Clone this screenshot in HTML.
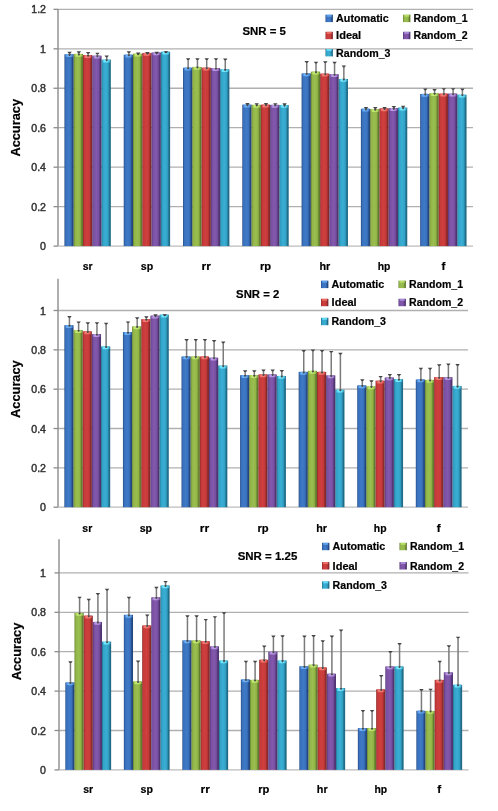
<!DOCTYPE html><html><head><meta charset="utf-8"><style>html,body{margin:0;padding:0;background:#fff;}svg{display:block;}#w{width:498px;height:811px;will-change:transform;}text{font-family:"Liberation Sans",sans-serif;}</style></head><body>
<div id="w"><svg width="498" height="811" viewBox="0 0 498 811">
<defs>
<linearGradient id="g0" x1="0" x2="1" y1="0" y2="0"><stop offset="0" stop-color="#23487f"/><stop offset="0.13" stop-color="#3870bc"/><stop offset="0.45" stop-color="#3f7ac6"/><stop offset="0.7" stop-color="#3870bc"/><stop offset="0.88" stop-color="#23487f"/><stop offset="1" stop-color="#23487f"/></linearGradient>
<linearGradient id="t0" x1="0" x2="1" y1="0" y2="0"><stop offset="0" stop-color="#3870bc"/><stop offset="0.25" stop-color="#6aaef6"/><stop offset="0.65" stop-color="#6aaef6"/><stop offset="1" stop-color="#3870bc"/></linearGradient>
<linearGradient id="g1" x1="0" x2="1" y1="0" y2="0"><stop offset="0" stop-color="#627a2c"/><stop offset="0.13" stop-color="#90b446"/><stop offset="0.45" stop-color="#9abf50"/><stop offset="0.7" stop-color="#90b446"/><stop offset="0.88" stop-color="#627a2c"/><stop offset="1" stop-color="#627a2c"/></linearGradient>
<linearGradient id="t1" x1="0" x2="1" y1="0" y2="0"><stop offset="0" stop-color="#90b446"/><stop offset="0.25" stop-color="#c0e870"/><stop offset="0.65" stop-color="#c0e870"/><stop offset="1" stop-color="#90b446"/></linearGradient>
<linearGradient id="g2" x1="0" x2="1" y1="0" y2="0"><stop offset="0" stop-color="#86292a"/><stop offset="0.13" stop-color="#c63939"/><stop offset="0.45" stop-color="#cd403e"/><stop offset="0.7" stop-color="#c63939"/><stop offset="0.88" stop-color="#86292a"/><stop offset="1" stop-color="#86292a"/></linearGradient>
<linearGradient id="t2" x1="0" x2="1" y1="0" y2="0"><stop offset="0" stop-color="#c63939"/><stop offset="0.25" stop-color="#f27a72"/><stop offset="0.65" stop-color="#f27a72"/><stop offset="1" stop-color="#c63939"/></linearGradient>
<linearGradient id="g3" x1="0" x2="1" y1="0" y2="0"><stop offset="0" stop-color="#4e3470"/><stop offset="0.13" stop-color="#794fa2"/><stop offset="0.45" stop-color="#8259ac"/><stop offset="0.7" stop-color="#794fa2"/><stop offset="0.88" stop-color="#4e3470"/><stop offset="1" stop-color="#4e3470"/></linearGradient>
<linearGradient id="t3" x1="0" x2="1" y1="0" y2="0"><stop offset="0" stop-color="#794fa2"/><stop offset="0.25" stop-color="#b898e2"/><stop offset="0.65" stop-color="#b898e2"/><stop offset="1" stop-color="#794fa2"/></linearGradient>
<linearGradient id="g4" x1="0" x2="1" y1="0" y2="0"><stop offset="0" stop-color="#206c88"/><stop offset="0.13" stop-color="#32a2c6"/><stop offset="0.45" stop-color="#3aaed4"/><stop offset="0.7" stop-color="#32a2c6"/><stop offset="0.88" stop-color="#206c88"/><stop offset="1" stop-color="#206c88"/></linearGradient>
<linearGradient id="t4" x1="0" x2="1" y1="0" y2="0"><stop offset="0" stop-color="#32a2c6"/><stop offset="0.25" stop-color="#70e6ff"/><stop offset="0.65" stop-color="#70e6ff"/><stop offset="1" stop-color="#32a2c6"/></linearGradient>
</defs>
<rect width="498" height="811" fill="#fff"/>
<line x1="53.5" y1="246.10" x2="58.0" y2="246.10" stroke="#8c8c8c" stroke-width="1.3"/>
<text x="46" y="250.10" text-anchor="end" font-size="10.6" fill="#333" stroke="#333" stroke-width="0.45">0</text>
<line x1="58.0" y1="206.64" x2="473.0" y2="206.64" stroke="#b0b0b0" stroke-width="1.3"/>
<line x1="53.5" y1="206.64" x2="58.0" y2="206.64" stroke="#8c8c8c" stroke-width="1.3"/>
<text x="46" y="210.64" text-anchor="end" font-size="10.6" fill="#333" stroke="#333" stroke-width="0.45">0.2</text>
<line x1="58.0" y1="167.18" x2="473.0" y2="167.18" stroke="#b0b0b0" stroke-width="1.3"/>
<line x1="53.5" y1="167.18" x2="58.0" y2="167.18" stroke="#8c8c8c" stroke-width="1.3"/>
<text x="46" y="171.18" text-anchor="end" font-size="10.6" fill="#333" stroke="#333" stroke-width="0.45">0.4</text>
<line x1="58.0" y1="127.72" x2="473.0" y2="127.72" stroke="#b0b0b0" stroke-width="1.3"/>
<line x1="53.5" y1="127.72" x2="58.0" y2="127.72" stroke="#8c8c8c" stroke-width="1.3"/>
<text x="46" y="131.72" text-anchor="end" font-size="10.6" fill="#333" stroke="#333" stroke-width="0.45">0.6</text>
<line x1="58.0" y1="88.26" x2="473.0" y2="88.26" stroke="#b0b0b0" stroke-width="1.3"/>
<line x1="53.5" y1="88.26" x2="58.0" y2="88.26" stroke="#8c8c8c" stroke-width="1.3"/>
<text x="46" y="92.26" text-anchor="end" font-size="10.6" fill="#333" stroke="#333" stroke-width="0.45">0.8</text>
<line x1="58.0" y1="48.80" x2="473.0" y2="48.80" stroke="#b0b0b0" stroke-width="1.3"/>
<line x1="53.5" y1="48.80" x2="58.0" y2="48.80" stroke="#8c8c8c" stroke-width="1.3"/>
<text x="46" y="52.80" text-anchor="end" font-size="10.6" fill="#333" stroke="#333" stroke-width="0.45">1</text>
<line x1="58.0" y1="9.34" x2="473.0" y2="9.34" stroke="#b0b0b0" stroke-width="1.3"/>
<line x1="53.5" y1="9.34" x2="58.0" y2="9.34" stroke="#8c8c8c" stroke-width="1.3"/>
<text x="46" y="13.34" text-anchor="end" font-size="10.6" fill="#333" stroke="#333" stroke-width="0.45">1.2</text>
<line x1="58.0" y1="9.0" x2="58.0" y2="246.10" stroke="#8c8c8c" stroke-width="1.4"/>
<line x1="58.0" y1="246.10" x2="473.0" y2="246.10" stroke="#bcbcbc" stroke-width="1.2"/>
<rect x="64.45" y="54.32" width="9.28" height="191.78" fill="url(#g0)"/>
<rect x="64.95" y="54.12" width="8.28" height="3.0" rx="1.5" fill="url(#t0)"/>
<line x1="69.59" y1="52.56" x2="69.59" y2="55.52" stroke="#7a7a7a" stroke-width="1.5"/>
<path d="M67.39,51.86H71.79L70.49,53.56H68.69Z" fill="#454545"/>
<path d="M68.29,54.12H70.89L70.09,55.92H69.09Z" fill="#3a3a3a" opacity="0.8"/>
<rect x="73.73" y="53.93" width="9.28" height="192.17" fill="url(#g1)"/>
<rect x="74.23" y="53.73" width="8.28" height="3.0" rx="1.5" fill="url(#t1)"/>
<line x1="78.86" y1="51.96" x2="78.86" y2="55.13" stroke="#7a7a7a" stroke-width="1.5"/>
<path d="M76.66,51.26H81.06L79.76,52.96H77.96Z" fill="#454545"/>
<path d="M77.56,53.73H80.16L79.36,55.53H78.36Z" fill="#3a3a3a" opacity="0.8"/>
<rect x="83.00" y="55.11" width="9.28" height="190.99" fill="url(#g2)"/>
<rect x="83.50" y="54.91" width="8.28" height="3.0" rx="1.5" fill="url(#t2)"/>
<line x1="88.14" y1="52.75" x2="88.14" y2="56.31" stroke="#7a7a7a" stroke-width="1.5"/>
<path d="M85.94,52.05H90.34L89.04,53.75H87.24Z" fill="#454545"/>
<path d="M86.84,54.91H89.44L88.64,56.71H87.64Z" fill="#3a3a3a" opacity="0.8"/>
<rect x="92.28" y="55.71" width="9.28" height="190.39" fill="url(#g3)"/>
<rect x="92.78" y="55.51" width="8.28" height="3.0" rx="1.5" fill="url(#t3)"/>
<line x1="97.42" y1="53.35" x2="97.42" y2="56.91" stroke="#7a7a7a" stroke-width="1.5"/>
<path d="M95.22,52.65H99.62L98.32,54.35H96.52Z" fill="#454545"/>
<path d="M96.12,55.51H98.72L97.92,57.31H96.92Z" fill="#3a3a3a" opacity="0.8"/>
<rect x="101.56" y="59.65" width="9.28" height="186.45" fill="url(#g4)"/>
<rect x="102.06" y="59.45" width="8.28" height="3.0" rx="1.5" fill="url(#t4)"/>
<line x1="106.70" y1="56.31" x2="106.70" y2="60.85" stroke="#7a7a7a" stroke-width="1.5"/>
<path d="M104.50,55.61H108.90L107.60,57.31H105.80Z" fill="#454545"/>
<path d="M105.40,59.45H108.00L107.20,61.25H106.20Z" fill="#3a3a3a" opacity="0.8"/>
<text x="87.64" y="270.4" text-anchor="middle" font-size="11.5" font-weight="bold" fill="#000" stroke="#000" stroke-width="0.2" textLength="9.9" lengthAdjust="spacingAndGlyphs">sr</text>
<rect x="123.73" y="54.72" width="9.28" height="191.38" fill="url(#g0)"/>
<rect x="124.23" y="54.52" width="8.28" height="3.0" rx="1.5" fill="url(#t0)"/>
<line x1="128.87" y1="51.96" x2="128.87" y2="55.92" stroke="#7a7a7a" stroke-width="1.5"/>
<path d="M126.67,51.26H131.07L129.77,52.96H127.97Z" fill="#454545"/>
<path d="M127.57,54.52H130.17L129.37,56.32H128.37Z" fill="#3a3a3a" opacity="0.8"/>
<rect x="133.01" y="53.73" width="9.28" height="192.37" fill="url(#g1)"/>
<rect x="133.51" y="53.53" width="8.28" height="3.0" rx="1.5" fill="url(#t1)"/>
<line x1="138.15" y1="53.15" x2="138.15" y2="54.93" stroke="#7a7a7a" stroke-width="1.5"/>
<path d="M135.95,52.45H140.35L139.05,54.15H137.25Z" fill="#454545"/>
<path d="M136.85,53.53H139.45L138.65,55.33H137.65Z" fill="#3a3a3a" opacity="0.8"/>
<rect x="142.29" y="52.94" width="9.28" height="193.16" fill="url(#g2)"/>
<rect x="142.79" y="52.74" width="8.28" height="3.0" rx="1.5" fill="url(#t2)"/>
<line x1="147.43" y1="52.75" x2="147.43" y2="54.14" stroke="#7a7a7a" stroke-width="1.5"/>
<path d="M145.23,52.05H149.63L148.33,53.75H146.53Z" fill="#454545"/>
<path d="M146.13,52.74H148.73L147.93,54.54H146.93Z" fill="#3a3a3a" opacity="0.8"/>
<rect x="151.57" y="52.55" width="9.28" height="193.55" fill="url(#g3)"/>
<rect x="152.07" y="52.35" width="8.28" height="3.0" rx="1.5" fill="url(#t3)"/>
<line x1="156.71" y1="52.56" x2="156.71" y2="53.75" stroke="#7a7a7a" stroke-width="1.5"/>
<path d="M154.51,51.86H158.91L157.61,53.56H155.81Z" fill="#454545"/>
<path d="M155.41,52.35H158.01L157.21,54.15H156.21Z" fill="#3a3a3a" opacity="0.8"/>
<rect x="160.85" y="51.76" width="9.28" height="194.34" fill="url(#g4)"/>
<rect x="161.35" y="51.56" width="8.28" height="3.0" rx="1.5" fill="url(#t4)"/>
<line x1="165.98" y1="51.96" x2="165.98" y2="52.96" stroke="#7a7a7a" stroke-width="1.5"/>
<path d="M163.78,51.26H168.18L166.88,52.96H165.08Z" fill="#454545"/>
<path d="M164.68,51.56H167.28L166.48,53.36H165.48Z" fill="#3a3a3a" opacity="0.8"/>
<text x="146.93" y="270.4" text-anchor="middle" font-size="11.5" font-weight="bold" fill="#000" stroke="#000" stroke-width="0.2" textLength="12.4" lengthAdjust="spacingAndGlyphs">sp</text>
<rect x="183.02" y="67.74" width="9.28" height="178.36" fill="url(#g0)"/>
<rect x="183.52" y="67.54" width="8.28" height="3.0" rx="1.5" fill="url(#t0)"/>
<line x1="188.16" y1="59.07" x2="188.16" y2="68.94" stroke="#7a7a7a" stroke-width="1.5"/>
<path d="M185.96,58.37H190.36L189.06,60.07H187.26Z" fill="#454545"/>
<path d="M186.86,67.54H189.46L188.66,69.34H187.66Z" fill="#3a3a3a" opacity="0.8"/>
<rect x="192.30" y="66.95" width="9.28" height="179.15" fill="url(#g1)"/>
<rect x="192.80" y="66.75" width="8.28" height="3.0" rx="1.5" fill="url(#t1)"/>
<line x1="197.44" y1="59.07" x2="197.44" y2="68.15" stroke="#7a7a7a" stroke-width="1.5"/>
<path d="M195.24,58.37H199.64L198.34,60.07H196.54Z" fill="#454545"/>
<path d="M196.14,66.75H198.74L197.94,68.55H196.94Z" fill="#3a3a3a" opacity="0.8"/>
<rect x="201.58" y="67.74" width="9.28" height="178.36" fill="url(#g2)"/>
<rect x="202.08" y="67.54" width="8.28" height="3.0" rx="1.5" fill="url(#t2)"/>
<line x1="206.71" y1="59.07" x2="206.71" y2="68.94" stroke="#7a7a7a" stroke-width="1.5"/>
<path d="M204.51,58.37H208.91L207.61,60.07H205.81Z" fill="#454545"/>
<path d="M205.41,67.54H208.01L207.21,69.34H206.21Z" fill="#3a3a3a" opacity="0.8"/>
<rect x="210.85" y="68.14" width="9.28" height="177.96" fill="url(#g3)"/>
<rect x="211.35" y="67.94" width="8.28" height="3.0" rx="1.5" fill="url(#t3)"/>
<line x1="215.99" y1="59.07" x2="215.99" y2="69.34" stroke="#7a7a7a" stroke-width="1.5"/>
<path d="M213.79,58.37H218.19L216.89,60.07H215.09Z" fill="#454545"/>
<path d="M214.69,67.94H217.29L216.49,69.74H215.49Z" fill="#3a3a3a" opacity="0.8"/>
<rect x="220.13" y="69.32" width="9.28" height="176.78" fill="url(#g4)"/>
<rect x="220.63" y="69.12" width="8.28" height="3.0" rx="1.5" fill="url(#t4)"/>
<line x1="225.27" y1="59.26" x2="225.27" y2="70.52" stroke="#7a7a7a" stroke-width="1.5"/>
<path d="M223.07,58.56H227.47L226.17,60.26H224.37Z" fill="#454545"/>
<path d="M223.97,69.12H226.57L225.77,70.92H224.77Z" fill="#3a3a3a" opacity="0.8"/>
<text x="206.21" y="270.4" text-anchor="middle" font-size="11.5" font-weight="bold" fill="#000" stroke="#000" stroke-width="0.2" textLength="9.4" lengthAdjust="spacingAndGlyphs">rr</text>
<rect x="242.30" y="104.64" width="9.28" height="141.46" fill="url(#g0)"/>
<rect x="242.80" y="104.44" width="8.28" height="3.0" rx="1.5" fill="url(#t0)"/>
<line x1="247.44" y1="103.66" x2="247.44" y2="105.84" stroke="#7a7a7a" stroke-width="1.5"/>
<path d="M245.24,102.96H249.64L248.34,104.66H246.54Z" fill="#454545"/>
<path d="M246.14,104.44H248.74L247.94,106.24H246.94Z" fill="#3a3a3a" opacity="0.8"/>
<rect x="251.58" y="104.83" width="9.28" height="141.27" fill="url(#g1)"/>
<rect x="252.08" y="104.63" width="8.28" height="3.0" rx="1.5" fill="url(#t1)"/>
<line x1="256.72" y1="103.85" x2="256.72" y2="106.03" stroke="#7a7a7a" stroke-width="1.5"/>
<path d="M254.52,103.15H258.92L257.62,104.85H255.82Z" fill="#454545"/>
<path d="M255.42,104.63H258.02L257.22,106.43H256.22Z" fill="#3a3a3a" opacity="0.8"/>
<rect x="260.86" y="104.64" width="9.28" height="141.46" fill="url(#g2)"/>
<rect x="261.36" y="104.44" width="8.28" height="3.0" rx="1.5" fill="url(#t2)"/>
<line x1="266.00" y1="103.66" x2="266.00" y2="105.84" stroke="#7a7a7a" stroke-width="1.5"/>
<path d="M263.80,102.96H268.20L266.90,104.66H265.10Z" fill="#454545"/>
<path d="M264.70,104.44H267.30L266.50,106.24H265.50Z" fill="#3a3a3a" opacity="0.8"/>
<rect x="270.14" y="104.83" width="9.28" height="141.27" fill="url(#g3)"/>
<rect x="270.64" y="104.63" width="8.28" height="3.0" rx="1.5" fill="url(#t3)"/>
<line x1="275.28" y1="103.85" x2="275.28" y2="106.03" stroke="#7a7a7a" stroke-width="1.5"/>
<path d="M273.08,103.15H277.48L276.18,104.85H274.38Z" fill="#454545"/>
<path d="M273.98,104.63H276.58L275.78,106.43H274.78Z" fill="#3a3a3a" opacity="0.8"/>
<rect x="279.42" y="105.03" width="9.28" height="141.07" fill="url(#g4)"/>
<rect x="279.92" y="104.83" width="8.28" height="3.0" rx="1.5" fill="url(#t4)"/>
<line x1="284.56" y1="104.05" x2="284.56" y2="106.23" stroke="#7a7a7a" stroke-width="1.5"/>
<path d="M282.36,103.35H286.76L285.46,105.05H283.66Z" fill="#454545"/>
<path d="M283.26,104.83H285.86L285.06,106.63H284.06Z" fill="#3a3a3a" opacity="0.8"/>
<text x="265.50" y="270.4" text-anchor="middle" font-size="11.5" font-weight="bold" fill="#000" stroke="#000" stroke-width="0.2" textLength="11.2" lengthAdjust="spacingAndGlyphs">rp</text>
<rect x="301.59" y="73.46" width="9.28" height="172.64" fill="url(#g0)"/>
<rect x="302.09" y="73.26" width="8.28" height="3.0" rx="1.5" fill="url(#t0)"/>
<line x1="306.73" y1="61.63" x2="306.73" y2="74.66" stroke="#7a7a7a" stroke-width="1.5"/>
<path d="M304.53,60.93H308.93L307.63,62.63H305.83Z" fill="#454545"/>
<path d="M305.43,73.26H308.03L307.23,75.06H306.23Z" fill="#3a3a3a" opacity="0.8"/>
<rect x="310.87" y="71.69" width="9.28" height="174.41" fill="url(#g1)"/>
<rect x="311.37" y="71.49" width="8.28" height="3.0" rx="1.5" fill="url(#t1)"/>
<line x1="316.01" y1="62.42" x2="316.01" y2="72.89" stroke="#7a7a7a" stroke-width="1.5"/>
<path d="M313.81,61.72H318.21L316.91,63.42H315.11Z" fill="#454545"/>
<path d="M314.71,71.49H317.31L316.51,73.29H315.51Z" fill="#3a3a3a" opacity="0.8"/>
<rect x="320.15" y="73.66" width="9.28" height="172.44" fill="url(#g2)"/>
<rect x="320.65" y="73.46" width="8.28" height="3.0" rx="1.5" fill="url(#t2)"/>
<line x1="325.29" y1="62.03" x2="325.29" y2="74.86" stroke="#7a7a7a" stroke-width="1.5"/>
<path d="M323.09,61.33H327.49L326.19,63.03H324.39Z" fill="#454545"/>
<path d="M323.99,73.46H326.59L325.79,75.26H324.79Z" fill="#3a3a3a" opacity="0.8"/>
<rect x="329.42" y="74.25" width="9.28" height="171.85" fill="url(#g3)"/>
<rect x="329.92" y="74.05" width="8.28" height="3.0" rx="1.5" fill="url(#t3)"/>
<line x1="334.56" y1="62.42" x2="334.56" y2="75.45" stroke="#7a7a7a" stroke-width="1.5"/>
<path d="M332.36,61.72H336.76L335.46,63.42H333.66Z" fill="#454545"/>
<path d="M333.26,74.05H335.86L335.06,75.85H334.06Z" fill="#3a3a3a" opacity="0.8"/>
<rect x="338.70" y="78.99" width="9.28" height="167.11" fill="url(#g4)"/>
<rect x="339.20" y="78.79" width="8.28" height="3.0" rx="1.5" fill="url(#t4)"/>
<line x1="343.84" y1="66.17" x2="343.84" y2="80.19" stroke="#7a7a7a" stroke-width="1.5"/>
<path d="M341.64,65.47H346.04L344.74,67.17H342.94Z" fill="#454545"/>
<path d="M342.54,78.79H345.14L344.34,80.59H343.34Z" fill="#3a3a3a" opacity="0.8"/>
<text x="324.79" y="270.4" text-anchor="middle" font-size="11.5" font-weight="bold" fill="#000" stroke="#000" stroke-width="0.2" textLength="10.8" lengthAdjust="spacingAndGlyphs">hr</text>
<rect x="360.88" y="108.78" width="9.28" height="137.32" fill="url(#g0)"/>
<rect x="361.38" y="108.58" width="8.28" height="3.0" rx="1.5" fill="url(#t0)"/>
<line x1="366.01" y1="107.80" x2="366.01" y2="109.98" stroke="#7a7a7a" stroke-width="1.5"/>
<path d="M363.81,107.10H368.21L366.91,108.80H365.12Z" fill="#454545"/>
<path d="M364.71,108.58H367.31L366.51,110.38H365.51Z" fill="#3a3a3a" opacity="0.8"/>
<rect x="370.15" y="109.17" width="9.28" height="136.93" fill="url(#g1)"/>
<rect x="370.65" y="108.97" width="8.28" height="3.0" rx="1.5" fill="url(#t1)"/>
<line x1="375.29" y1="107.80" x2="375.29" y2="110.37" stroke="#7a7a7a" stroke-width="1.5"/>
<path d="M373.09,107.10H377.49L376.19,108.80H374.39Z" fill="#454545"/>
<path d="M373.99,108.97H376.59L375.79,110.77H374.79Z" fill="#3a3a3a" opacity="0.8"/>
<rect x="379.43" y="108.38" width="9.28" height="137.72" fill="url(#g2)"/>
<rect x="379.93" y="108.18" width="8.28" height="3.0" rx="1.5" fill="url(#t2)"/>
<line x1="384.57" y1="107.80" x2="384.57" y2="109.58" stroke="#7a7a7a" stroke-width="1.5"/>
<path d="M382.37,107.10H386.77L385.47,108.80H383.67Z" fill="#454545"/>
<path d="M383.27,108.18H385.87L385.07,109.98H384.07Z" fill="#3a3a3a" opacity="0.8"/>
<rect x="388.71" y="108.19" width="9.28" height="137.91" fill="url(#g3)"/>
<rect x="389.21" y="107.99" width="8.28" height="3.0" rx="1.5" fill="url(#t3)"/>
<line x1="393.85" y1="106.81" x2="393.85" y2="109.39" stroke="#7a7a7a" stroke-width="1.5"/>
<path d="M391.65,106.11H396.05L394.75,107.81H392.95Z" fill="#454545"/>
<path d="M392.55,107.99H395.15L394.35,109.79H393.35Z" fill="#3a3a3a" opacity="0.8"/>
<rect x="397.99" y="107.60" width="9.28" height="138.50" fill="url(#g4)"/>
<rect x="398.49" y="107.40" width="8.28" height="3.0" rx="1.5" fill="url(#t4)"/>
<line x1="403.13" y1="106.42" x2="403.13" y2="108.80" stroke="#7a7a7a" stroke-width="1.5"/>
<path d="M400.93,105.72H405.33L404.03,107.42H402.23Z" fill="#454545"/>
<path d="M401.83,107.40H404.43L403.63,109.20H402.63Z" fill="#3a3a3a" opacity="0.8"/>
<text x="384.07" y="270.4" text-anchor="middle" font-size="11.5" font-weight="bold" fill="#000" stroke="#000" stroke-width="0.2" textLength="12.7" lengthAdjust="spacingAndGlyphs">hp</text>
<rect x="420.16" y="93.98" width="9.28" height="152.12" fill="url(#g0)"/>
<rect x="420.66" y="93.78" width="8.28" height="3.0" rx="1.5" fill="url(#t0)"/>
<line x1="425.30" y1="89.25" x2="425.30" y2="95.18" stroke="#7a7a7a" stroke-width="1.5"/>
<path d="M423.10,88.55H427.50L426.20,90.25H424.40Z" fill="#454545"/>
<path d="M424.00,93.78H426.60L425.80,95.58H424.80Z" fill="#3a3a3a" opacity="0.8"/>
<rect x="429.44" y="93.19" width="9.28" height="152.91" fill="url(#g1)"/>
<rect x="429.94" y="92.99" width="8.28" height="3.0" rx="1.5" fill="url(#t1)"/>
<line x1="434.58" y1="89.65" x2="434.58" y2="94.39" stroke="#7a7a7a" stroke-width="1.5"/>
<path d="M432.38,88.95H436.78L435.48,90.65H433.68Z" fill="#454545"/>
<path d="M433.28,92.99H435.88L435.08,94.79H434.08Z" fill="#3a3a3a" opacity="0.8"/>
<rect x="438.72" y="93.59" width="9.28" height="152.51" fill="url(#g2)"/>
<rect x="439.22" y="93.39" width="8.28" height="3.0" rx="1.5" fill="url(#t2)"/>
<line x1="443.86" y1="88.86" x2="443.86" y2="94.79" stroke="#7a7a7a" stroke-width="1.5"/>
<path d="M441.66,88.16H446.06L444.76,89.86H442.96Z" fill="#454545"/>
<path d="M442.56,93.39H445.16L444.36,95.19H443.36Z" fill="#3a3a3a" opacity="0.8"/>
<rect x="448.00" y="93.59" width="9.28" height="152.51" fill="url(#g3)"/>
<rect x="448.50" y="93.39" width="8.28" height="3.0" rx="1.5" fill="url(#t3)"/>
<line x1="453.14" y1="88.86" x2="453.14" y2="94.79" stroke="#7a7a7a" stroke-width="1.5"/>
<path d="M450.94,88.16H455.34L454.04,89.86H452.24Z" fill="#454545"/>
<path d="M451.84,93.39H454.44L453.64,95.19H452.64Z" fill="#3a3a3a" opacity="0.8"/>
<rect x="457.27" y="94.77" width="9.28" height="151.33" fill="url(#g4)"/>
<rect x="457.77" y="94.57" width="8.28" height="3.0" rx="1.5" fill="url(#t4)"/>
<line x1="462.41" y1="89.25" x2="462.41" y2="95.97" stroke="#7a7a7a" stroke-width="1.5"/>
<path d="M460.21,88.55H464.61L463.31,90.25H461.51Z" fill="#454545"/>
<path d="M461.11,94.57H463.71L462.91,96.37H461.91Z" fill="#3a3a3a" opacity="0.8"/>
<text x="443.36" y="270.4" text-anchor="middle" font-size="11.5" font-weight="bold" fill="#000" stroke="#000" stroke-width="0.2" textLength="3.9" lengthAdjust="spacingAndGlyphs">f</text>
<text x="242.5" y="34.70" font-size="11.8" font-weight="bold" fill="#000" stroke="#000" stroke-width="0.2" textLength="43.4" lengthAdjust="spacingAndGlyphs">SNR = 5</text>
<rect x="325.50" y="14.70" width="7.4" height="7.4" fill="url(#g0)"/>
<rect x="326.70" y="14.70" width="5" height="2" fill="#6aaef6" opacity="0.8"/>
<text x="336.10" y="22.20" font-size="11" font-weight="bold" fill="#000" stroke="#000" stroke-width="0.2" textLength="52.6" lengthAdjust="spacingAndGlyphs">Automatic</text>
<rect x="403.00" y="14.70" width="7.4" height="7.4" fill="url(#g1)"/>
<rect x="404.20" y="14.70" width="5" height="2" fill="#c0e870" opacity="0.8"/>
<text x="413.60" y="22.20" font-size="11" font-weight="bold" fill="#000" stroke="#000" stroke-width="0.2" textLength="54.0" lengthAdjust="spacingAndGlyphs">Random_1</text>
<rect x="325.50" y="31.80" width="7.4" height="7.4" fill="url(#g2)"/>
<rect x="326.70" y="31.80" width="5" height="2" fill="#f27a72" opacity="0.8"/>
<text x="336.10" y="39.30" font-size="11" font-weight="bold" fill="#000" stroke="#000" stroke-width="0.2" textLength="25.1" lengthAdjust="spacingAndGlyphs">Ideal</text>
<rect x="403.00" y="31.80" width="7.4" height="7.4" fill="url(#g3)"/>
<rect x="404.20" y="31.80" width="5" height="2" fill="#b898e2" opacity="0.8"/>
<text x="413.60" y="39.30" font-size="11" font-weight="bold" fill="#000" stroke="#000" stroke-width="0.2" textLength="54.0" lengthAdjust="spacingAndGlyphs">Random_2</text>
<rect x="325.50" y="49.00" width="7.4" height="7.4" fill="url(#g4)"/>
<rect x="326.70" y="49.00" width="5" height="2" fill="#70e6ff" opacity="0.8"/>
<text x="336.10" y="56.50" font-size="11" font-weight="bold" fill="#000" stroke="#000" stroke-width="0.2" textLength="54.4" lengthAdjust="spacingAndGlyphs">Random_3</text>
<text transform="translate(20.4,127.80) rotate(-90)" x="0" y="0" text-anchor="middle" font-size="12.8" font-weight="bold" fill="#000" stroke="#000" stroke-width="0.2">Accuracy</text>
<line x1="53.5" y1="507.20" x2="58.0" y2="507.20" stroke="#8c8c8c" stroke-width="1.3"/>
<text x="46" y="511.20" text-anchor="end" font-size="10.6" fill="#333" stroke="#333" stroke-width="0.45">0</text>
<line x1="58.0" y1="467.86" x2="468.0" y2="467.86" stroke="#b0b0b0" stroke-width="1.3"/>
<line x1="53.5" y1="467.86" x2="58.0" y2="467.86" stroke="#8c8c8c" stroke-width="1.3"/>
<text x="46" y="471.86" text-anchor="end" font-size="10.6" fill="#333" stroke="#333" stroke-width="0.45">0.2</text>
<line x1="58.0" y1="428.52" x2="468.0" y2="428.52" stroke="#b0b0b0" stroke-width="1.3"/>
<line x1="53.5" y1="428.52" x2="58.0" y2="428.52" stroke="#8c8c8c" stroke-width="1.3"/>
<text x="46" y="432.52" text-anchor="end" font-size="10.6" fill="#333" stroke="#333" stroke-width="0.45">0.4</text>
<line x1="58.0" y1="389.18" x2="468.0" y2="389.18" stroke="#b0b0b0" stroke-width="1.3"/>
<line x1="53.5" y1="389.18" x2="58.0" y2="389.18" stroke="#8c8c8c" stroke-width="1.3"/>
<text x="46" y="393.18" text-anchor="end" font-size="10.6" fill="#333" stroke="#333" stroke-width="0.45">0.6</text>
<line x1="58.0" y1="349.84" x2="468.0" y2="349.84" stroke="#b0b0b0" stroke-width="1.3"/>
<line x1="53.5" y1="349.84" x2="58.0" y2="349.84" stroke="#8c8c8c" stroke-width="1.3"/>
<text x="46" y="353.84" text-anchor="end" font-size="10.6" fill="#333" stroke="#333" stroke-width="0.45">0.8</text>
<line x1="58.0" y1="310.50" x2="468.0" y2="310.50" stroke="#b0b0b0" stroke-width="1.3"/>
<line x1="53.5" y1="310.50" x2="58.0" y2="310.50" stroke="#8c8c8c" stroke-width="1.3"/>
<text x="46" y="314.50" text-anchor="end" font-size="10.6" fill="#333" stroke="#333" stroke-width="0.45">1</text>
<line x1="58.0" y1="278.7" x2="58.0" y2="507.20" stroke="#8c8c8c" stroke-width="1.4"/>
<line x1="58.0" y1="507.20" x2="468.0" y2="507.20" stroke="#bcbcbc" stroke-width="1.2"/>
<rect x="64.37" y="325.25" width="9.17" height="181.95" fill="url(#g0)"/>
<rect x="64.87" y="325.05" width="8.17" height="3.0" rx="1.5" fill="url(#t0)"/>
<line x1="69.45" y1="316.80" x2="69.45" y2="326.45" stroke="#7a7a7a" stroke-width="1.5"/>
<path d="M67.25,316.10H71.65L70.35,317.80H68.55Z" fill="#454545"/>
<path d="M68.15,325.05H70.75L69.95,326.85H68.95Z" fill="#3a3a3a" opacity="0.8"/>
<rect x="73.54" y="330.17" width="9.17" height="177.03" fill="url(#g1)"/>
<rect x="74.04" y="329.97" width="8.17" height="3.0" rx="1.5" fill="url(#t1)"/>
<line x1="78.62" y1="322.12" x2="78.62" y2="331.37" stroke="#7a7a7a" stroke-width="1.5"/>
<path d="M76.42,321.42H80.82L79.52,323.12H77.72Z" fill="#454545"/>
<path d="M77.32,329.97H79.92L79.12,331.77H78.12Z" fill="#3a3a3a" opacity="0.8"/>
<rect x="82.70" y="331.35" width="9.17" height="175.85" fill="url(#g2)"/>
<rect x="83.20" y="331.15" width="8.17" height="3.0" rx="1.5" fill="url(#t2)"/>
<line x1="87.79" y1="322.90" x2="87.79" y2="332.55" stroke="#7a7a7a" stroke-width="1.5"/>
<path d="M85.59,322.20H89.99L88.69,323.90H86.89Z" fill="#454545"/>
<path d="M86.49,331.15H89.09L88.29,332.95H87.29Z" fill="#3a3a3a" opacity="0.8"/>
<rect x="91.87" y="334.10" width="9.17" height="173.10" fill="url(#g3)"/>
<rect x="92.37" y="333.90" width="8.17" height="3.0" rx="1.5" fill="url(#t3)"/>
<line x1="96.95" y1="322.90" x2="96.95" y2="335.30" stroke="#7a7a7a" stroke-width="1.5"/>
<path d="M94.75,322.20H99.15L97.85,323.90H96.05Z" fill="#454545"/>
<path d="M95.65,333.90H98.25L97.45,335.70H96.45Z" fill="#3a3a3a" opacity="0.8"/>
<rect x="101.04" y="346.50" width="9.17" height="160.70" fill="url(#g4)"/>
<rect x="101.54" y="346.30" width="8.17" height="3.0" rx="1.5" fill="url(#t4)"/>
<line x1="106.12" y1="323.49" x2="106.12" y2="347.70" stroke="#7a7a7a" stroke-width="1.5"/>
<path d="M103.92,322.79H108.32L107.02,324.49H105.22Z" fill="#454545"/>
<path d="M104.82,346.30H107.42L106.62,348.10H105.62Z" fill="#3a3a3a" opacity="0.8"/>
<text x="87.29" y="531.7" text-anchor="middle" font-size="11.5" font-weight="bold" fill="#000" stroke="#000" stroke-width="0.2" textLength="9.9" lengthAdjust="spacingAndGlyphs">sr</text>
<rect x="122.94" y="332.14" width="9.17" height="175.06" fill="url(#g0)"/>
<rect x="123.44" y="331.94" width="8.17" height="3.0" rx="1.5" fill="url(#t0)"/>
<line x1="128.02" y1="322.12" x2="128.02" y2="333.34" stroke="#7a7a7a" stroke-width="1.5"/>
<path d="M125.82,321.42H130.22L128.92,323.12H127.12Z" fill="#454545"/>
<path d="M126.72,331.94H129.32L128.52,333.74H127.52Z" fill="#3a3a3a" opacity="0.8"/>
<rect x="132.11" y="326.43" width="9.17" height="180.77" fill="url(#g1)"/>
<rect x="132.61" y="326.23" width="8.17" height="3.0" rx="1.5" fill="url(#t1)"/>
<line x1="137.19" y1="317.98" x2="137.19" y2="327.63" stroke="#7a7a7a" stroke-width="1.5"/>
<path d="M134.99,317.28H139.39L138.09,318.98H136.29Z" fill="#454545"/>
<path d="M135.89,326.23H138.49L137.69,328.03H136.69Z" fill="#3a3a3a" opacity="0.8"/>
<rect x="141.27" y="319.15" width="9.17" height="188.05" fill="url(#g2)"/>
<rect x="141.77" y="318.95" width="8.17" height="3.0" rx="1.5" fill="url(#t2)"/>
<line x1="146.36" y1="317.00" x2="146.36" y2="320.35" stroke="#7a7a7a" stroke-width="1.5"/>
<path d="M144.16,316.30H148.56L147.26,318.00H145.46Z" fill="#454545"/>
<path d="M145.06,318.95H147.66L146.86,320.75H145.86Z" fill="#3a3a3a" opacity="0.8"/>
<rect x="150.44" y="315.61" width="9.17" height="191.59" fill="url(#g3)"/>
<rect x="150.94" y="315.41" width="8.17" height="3.0" rx="1.5" fill="url(#t3)"/>
<line x1="155.52" y1="315.03" x2="155.52" y2="316.81" stroke="#7a7a7a" stroke-width="1.5"/>
<path d="M153.32,314.33H157.72L156.42,316.03H154.62Z" fill="#454545"/>
<path d="M154.22,315.41H156.82L156.02,317.21H155.02Z" fill="#3a3a3a" opacity="0.8"/>
<rect x="159.61" y="314.63" width="9.17" height="192.57" fill="url(#g4)"/>
<rect x="160.11" y="314.43" width="8.17" height="3.0" rx="1.5" fill="url(#t4)"/>
<line x1="164.69" y1="314.84" x2="164.69" y2="315.83" stroke="#7a7a7a" stroke-width="1.5"/>
<path d="M162.49,314.14H166.89L165.59,315.84H163.79Z" fill="#454545"/>
<path d="M163.39,314.43H165.99L165.19,316.23H164.19Z" fill="#3a3a3a" opacity="0.8"/>
<text x="145.86" y="531.7" text-anchor="middle" font-size="11.5" font-weight="bold" fill="#000" stroke="#000" stroke-width="0.2" textLength="12.4" lengthAdjust="spacingAndGlyphs">sp</text>
<rect x="181.51" y="356.53" width="9.17" height="150.67" fill="url(#g0)"/>
<rect x="182.01" y="356.33" width="8.17" height="3.0" rx="1.5" fill="url(#t0)"/>
<line x1="186.60" y1="339.82" x2="186.60" y2="357.73" stroke="#7a7a7a" stroke-width="1.5"/>
<path d="M184.40,339.12H188.80L187.50,340.82H185.70Z" fill="#454545"/>
<path d="M185.30,356.33H187.90L187.10,358.13H186.10Z" fill="#3a3a3a" opacity="0.8"/>
<rect x="190.68" y="356.53" width="9.17" height="150.67" fill="url(#g1)"/>
<rect x="191.18" y="356.33" width="8.17" height="3.0" rx="1.5" fill="url(#t1)"/>
<line x1="195.76" y1="339.82" x2="195.76" y2="357.73" stroke="#7a7a7a" stroke-width="1.5"/>
<path d="M193.56,339.12H197.96L196.66,340.82H194.86Z" fill="#454545"/>
<path d="M194.46,356.33H197.06L196.26,358.13H195.26Z" fill="#3a3a3a" opacity="0.8"/>
<rect x="199.85" y="356.53" width="9.17" height="150.67" fill="url(#g2)"/>
<rect x="200.35" y="356.33" width="8.17" height="3.0" rx="1.5" fill="url(#t2)"/>
<line x1="204.93" y1="339.82" x2="204.93" y2="357.73" stroke="#7a7a7a" stroke-width="1.5"/>
<path d="M202.73,339.12H207.13L205.83,340.82H204.03Z" fill="#454545"/>
<path d="M203.63,356.33H206.23L205.43,358.13H204.43Z" fill="#3a3a3a" opacity="0.8"/>
<rect x="209.01" y="357.71" width="9.17" height="149.49" fill="url(#g3)"/>
<rect x="209.51" y="357.51" width="8.17" height="3.0" rx="1.5" fill="url(#t3)"/>
<line x1="214.09" y1="340.80" x2="214.09" y2="358.91" stroke="#7a7a7a" stroke-width="1.5"/>
<path d="M211.90,340.10H216.29L215.00,341.80H213.19Z" fill="#454545"/>
<path d="M212.79,357.51H215.40L214.59,359.31H213.59Z" fill="#3a3a3a" opacity="0.8"/>
<rect x="218.18" y="365.58" width="9.17" height="141.62" fill="url(#g4)"/>
<rect x="218.68" y="365.38" width="8.17" height="3.0" rx="1.5" fill="url(#t4)"/>
<line x1="223.26" y1="342.18" x2="223.26" y2="366.78" stroke="#7a7a7a" stroke-width="1.5"/>
<path d="M221.06,341.48H225.46L224.16,343.18H222.36Z" fill="#454545"/>
<path d="M221.96,365.38H224.56L223.76,367.18H222.76Z" fill="#3a3a3a" opacity="0.8"/>
<text x="204.43" y="531.7" text-anchor="middle" font-size="11.5" font-weight="bold" fill="#000" stroke="#000" stroke-width="0.2" textLength="9.4" lengthAdjust="spacingAndGlyphs">rr</text>
<rect x="240.08" y="375.21" width="9.17" height="131.99" fill="url(#g0)"/>
<rect x="240.58" y="375.01" width="8.17" height="3.0" rx="1.5" fill="url(#t0)"/>
<line x1="245.17" y1="370.90" x2="245.17" y2="376.41" stroke="#7a7a7a" stroke-width="1.5"/>
<path d="M242.97,370.20H247.37L246.07,371.90H244.27Z" fill="#454545"/>
<path d="M243.87,375.01H246.47L245.67,376.81H244.67Z" fill="#3a3a3a" opacity="0.8"/>
<rect x="249.25" y="375.21" width="9.17" height="131.99" fill="url(#g1)"/>
<rect x="249.75" y="375.01" width="8.17" height="3.0" rx="1.5" fill="url(#t1)"/>
<line x1="254.33" y1="370.90" x2="254.33" y2="376.41" stroke="#7a7a7a" stroke-width="1.5"/>
<path d="M252.13,370.20H256.53L255.23,371.90H253.43Z" fill="#454545"/>
<path d="M253.03,375.01H255.63L254.83,376.81H253.83Z" fill="#3a3a3a" opacity="0.8"/>
<rect x="258.42" y="374.43" width="9.17" height="132.77" fill="url(#g2)"/>
<rect x="258.92" y="374.23" width="8.17" height="3.0" rx="1.5" fill="url(#t2)"/>
<line x1="263.50" y1="370.31" x2="263.50" y2="375.63" stroke="#7a7a7a" stroke-width="1.5"/>
<path d="M261.30,369.61H265.70L264.40,371.31H262.60Z" fill="#454545"/>
<path d="M262.20,374.23H264.80L264.00,376.03H263.00Z" fill="#3a3a3a" opacity="0.8"/>
<rect x="267.58" y="374.43" width="9.17" height="132.77" fill="url(#g3)"/>
<rect x="268.08" y="374.23" width="8.17" height="3.0" rx="1.5" fill="url(#t3)"/>
<line x1="272.67" y1="370.31" x2="272.67" y2="375.63" stroke="#7a7a7a" stroke-width="1.5"/>
<path d="M270.47,369.61H274.87L273.57,371.31H271.77Z" fill="#454545"/>
<path d="M271.37,374.23H273.97L273.17,376.03H272.17Z" fill="#3a3a3a" opacity="0.8"/>
<rect x="276.75" y="376.00" width="9.17" height="131.20" fill="url(#g4)"/>
<rect x="277.25" y="375.80" width="8.17" height="3.0" rx="1.5" fill="url(#t4)"/>
<line x1="281.83" y1="370.70" x2="281.83" y2="377.20" stroke="#7a7a7a" stroke-width="1.5"/>
<path d="M279.63,370.00H284.03L282.73,371.70H280.93Z" fill="#454545"/>
<path d="M280.53,375.80H283.13L282.33,377.60H281.33Z" fill="#3a3a3a" opacity="0.8"/>
<text x="263.00" y="531.7" text-anchor="middle" font-size="11.5" font-weight="bold" fill="#000" stroke="#000" stroke-width="0.2" textLength="11.2" lengthAdjust="spacingAndGlyphs">rp</text>
<rect x="298.66" y="371.87" width="9.17" height="135.33" fill="url(#g0)"/>
<rect x="299.16" y="371.67" width="8.17" height="3.0" rx="1.5" fill="url(#t0)"/>
<line x1="303.74" y1="350.64" x2="303.74" y2="373.07" stroke="#7a7a7a" stroke-width="1.5"/>
<path d="M301.54,349.94H305.94L304.64,351.64H302.84Z" fill="#454545"/>
<path d="M302.44,371.67H305.04L304.24,373.47H303.24Z" fill="#3a3a3a" opacity="0.8"/>
<rect x="307.82" y="370.89" width="9.17" height="136.31" fill="url(#g1)"/>
<rect x="308.32" y="370.69" width="8.17" height="3.0" rx="1.5" fill="url(#t1)"/>
<line x1="312.91" y1="350.24" x2="312.91" y2="372.09" stroke="#7a7a7a" stroke-width="1.5"/>
<path d="M310.71,349.54H315.11L313.81,351.24H312.01Z" fill="#454545"/>
<path d="M311.61,370.69H314.21L313.41,372.49H312.41Z" fill="#3a3a3a" opacity="0.8"/>
<rect x="316.99" y="371.87" width="9.17" height="135.33" fill="url(#g2)"/>
<rect x="317.49" y="371.67" width="8.17" height="3.0" rx="1.5" fill="url(#t2)"/>
<line x1="322.07" y1="350.64" x2="322.07" y2="373.07" stroke="#7a7a7a" stroke-width="1.5"/>
<path d="M319.87,349.94H324.27L322.97,351.64H321.17Z" fill="#454545"/>
<path d="M320.77,371.67H323.37L322.57,373.47H321.57Z" fill="#3a3a3a" opacity="0.8"/>
<rect x="326.15" y="375.41" width="9.17" height="131.79" fill="url(#g3)"/>
<rect x="326.65" y="375.21" width="8.17" height="3.0" rx="1.5" fill="url(#t3)"/>
<line x1="331.24" y1="351.62" x2="331.24" y2="376.61" stroke="#7a7a7a" stroke-width="1.5"/>
<path d="M329.04,350.92H333.44L332.14,352.62H330.34Z" fill="#454545"/>
<path d="M329.94,375.21H332.54L331.74,377.01H330.74Z" fill="#3a3a3a" opacity="0.8"/>
<rect x="335.32" y="389.77" width="9.17" height="117.43" fill="url(#g4)"/>
<rect x="335.82" y="389.57" width="8.17" height="3.0" rx="1.5" fill="url(#t4)"/>
<line x1="340.40" y1="353.39" x2="340.40" y2="390.97" stroke="#7a7a7a" stroke-width="1.5"/>
<path d="M338.20,352.69H342.60L341.30,354.39H339.50Z" fill="#454545"/>
<path d="M339.10,389.57H341.70L340.90,391.37H339.90Z" fill="#3a3a3a" opacity="0.8"/>
<text x="321.57" y="531.7" text-anchor="middle" font-size="11.5" font-weight="bold" fill="#000" stroke="#000" stroke-width="0.2" textLength="10.8" lengthAdjust="spacingAndGlyphs">hr</text>
<rect x="357.23" y="385.44" width="9.17" height="121.76" fill="url(#g0)"/>
<rect x="357.73" y="385.24" width="8.17" height="3.0" rx="1.5" fill="url(#t0)"/>
<line x1="362.31" y1="379.94" x2="362.31" y2="386.64" stroke="#7a7a7a" stroke-width="1.5"/>
<path d="M360.11,379.24H364.51L363.21,380.94H361.41Z" fill="#454545"/>
<path d="M361.01,385.24H363.61L362.81,387.04H361.81Z" fill="#3a3a3a" opacity="0.8"/>
<rect x="366.39" y="386.43" width="9.17" height="120.77" fill="url(#g1)"/>
<rect x="366.89" y="386.23" width="8.17" height="3.0" rx="1.5" fill="url(#t1)"/>
<line x1="371.48" y1="380.93" x2="371.48" y2="387.63" stroke="#7a7a7a" stroke-width="1.5"/>
<path d="M369.28,380.23H373.68L372.38,381.93H370.58Z" fill="#454545"/>
<path d="M370.18,386.23H372.78L371.98,388.03H370.98Z" fill="#3a3a3a" opacity="0.8"/>
<rect x="375.56" y="380.72" width="9.17" height="126.48" fill="url(#g2)"/>
<rect x="376.06" y="380.52" width="8.17" height="3.0" rx="1.5" fill="url(#t2)"/>
<line x1="380.64" y1="376.60" x2="380.64" y2="381.92" stroke="#7a7a7a" stroke-width="1.5"/>
<path d="M378.44,375.90H382.84L381.54,377.60H379.74Z" fill="#454545"/>
<path d="M379.34,380.52H381.94L381.14,382.32H380.14Z" fill="#3a3a3a" opacity="0.8"/>
<rect x="384.73" y="377.57" width="9.17" height="129.63" fill="url(#g3)"/>
<rect x="385.23" y="377.37" width="8.17" height="3.0" rx="1.5" fill="url(#t3)"/>
<line x1="389.81" y1="374.63" x2="389.81" y2="378.77" stroke="#7a7a7a" stroke-width="1.5"/>
<path d="M387.61,373.93H392.01L390.71,375.63H388.91Z" fill="#454545"/>
<path d="M388.51,377.37H391.11L390.31,379.17H389.31Z" fill="#3a3a3a" opacity="0.8"/>
<rect x="393.89" y="379.15" width="9.17" height="128.05" fill="url(#g4)"/>
<rect x="394.39" y="378.95" width="8.17" height="3.0" rx="1.5" fill="url(#t4)"/>
<line x1="398.98" y1="374.63" x2="398.98" y2="380.35" stroke="#7a7a7a" stroke-width="1.5"/>
<path d="M396.78,373.93H401.18L399.88,375.63H398.08Z" fill="#454545"/>
<path d="M397.68,378.95H400.28L399.48,380.75H398.48Z" fill="#3a3a3a" opacity="0.8"/>
<text x="380.14" y="531.7" text-anchor="middle" font-size="11.5" font-weight="bold" fill="#000" stroke="#000" stroke-width="0.2" textLength="12.7" lengthAdjust="spacingAndGlyphs">hp</text>
<rect x="415.80" y="379.54" width="9.17" height="127.66" fill="url(#g0)"/>
<rect x="416.30" y="379.34" width="8.17" height="3.0" rx="1.5" fill="url(#t0)"/>
<line x1="420.88" y1="368.54" x2="420.88" y2="380.74" stroke="#7a7a7a" stroke-width="1.5"/>
<path d="M418.68,367.84H423.08L421.78,369.54H419.98Z" fill="#454545"/>
<path d="M419.58,379.34H422.18L421.38,381.14H420.38Z" fill="#3a3a3a" opacity="0.8"/>
<rect x="424.96" y="379.94" width="9.17" height="127.26" fill="url(#g1)"/>
<rect x="425.46" y="379.74" width="8.17" height="3.0" rx="1.5" fill="url(#t1)"/>
<line x1="430.05" y1="368.54" x2="430.05" y2="381.14" stroke="#7a7a7a" stroke-width="1.5"/>
<path d="M427.85,367.84H432.25L430.95,369.54H429.15Z" fill="#454545"/>
<path d="M428.75,379.74H431.35L430.55,381.54H429.55Z" fill="#3a3a3a" opacity="0.8"/>
<rect x="434.13" y="377.18" width="9.17" height="130.02" fill="url(#g2)"/>
<rect x="434.63" y="376.98" width="8.17" height="3.0" rx="1.5" fill="url(#t2)"/>
<line x1="439.21" y1="365.00" x2="439.21" y2="378.38" stroke="#7a7a7a" stroke-width="1.5"/>
<path d="M437.01,364.30H441.41L440.11,366.00H438.31Z" fill="#454545"/>
<path d="M437.91,376.98H440.51L439.71,378.78H438.71Z" fill="#3a3a3a" opacity="0.8"/>
<rect x="443.30" y="377.18" width="9.17" height="130.02" fill="url(#g3)"/>
<rect x="443.80" y="376.98" width="8.17" height="3.0" rx="1.5" fill="url(#t3)"/>
<line x1="448.38" y1="364.21" x2="448.38" y2="378.38" stroke="#7a7a7a" stroke-width="1.5"/>
<path d="M446.18,363.51H450.58L449.28,365.21H447.48Z" fill="#454545"/>
<path d="M447.08,376.98H449.68L448.88,378.78H447.88Z" fill="#3a3a3a" opacity="0.8"/>
<rect x="452.46" y="386.03" width="9.17" height="121.17" fill="url(#g4)"/>
<rect x="452.96" y="385.83" width="8.17" height="3.0" rx="1.5" fill="url(#t4)"/>
<line x1="457.55" y1="364.80" x2="457.55" y2="387.23" stroke="#7a7a7a" stroke-width="1.5"/>
<path d="M455.35,364.10H459.75L458.45,365.80H456.65Z" fill="#454545"/>
<path d="M456.25,385.83H458.85L458.05,387.63H457.05Z" fill="#3a3a3a" opacity="0.8"/>
<text x="438.71" y="531.7" text-anchor="middle" font-size="11.5" font-weight="bold" fill="#000" stroke="#000" stroke-width="0.2" textLength="3.9" lengthAdjust="spacingAndGlyphs">f</text>
<text x="236.1" y="297.60" font-size="11.8" font-weight="bold" fill="#000" stroke="#000" stroke-width="0.2" textLength="43.1" lengthAdjust="spacingAndGlyphs">SNR = 2</text>
<rect x="321.00" y="280.70" width="7.4" height="7.4" fill="url(#g0)"/>
<rect x="322.20" y="280.70" width="5" height="2" fill="#6aaef6" opacity="0.8"/>
<text x="331.60" y="288.20" font-size="11" font-weight="bold" fill="#000" stroke="#000" stroke-width="0.2" textLength="52.6" lengthAdjust="spacingAndGlyphs">Automatic</text>
<rect x="398.50" y="280.70" width="7.4" height="7.4" fill="url(#g1)"/>
<rect x="399.70" y="280.70" width="5" height="2" fill="#c0e870" opacity="0.8"/>
<text x="409.10" y="288.20" font-size="11" font-weight="bold" fill="#000" stroke="#000" stroke-width="0.2" textLength="54.0" lengthAdjust="spacingAndGlyphs">Random_1</text>
<rect x="321.00" y="298.80" width="7.4" height="7.4" fill="url(#g2)"/>
<rect x="322.20" y="298.80" width="5" height="2" fill="#f27a72" opacity="0.8"/>
<text x="331.60" y="306.30" font-size="11" font-weight="bold" fill="#000" stroke="#000" stroke-width="0.2" textLength="25.1" lengthAdjust="spacingAndGlyphs">Ideal</text>
<rect x="398.50" y="298.80" width="7.4" height="7.4" fill="url(#g3)"/>
<rect x="399.70" y="298.80" width="5" height="2" fill="#b898e2" opacity="0.8"/>
<text x="409.10" y="306.30" font-size="11" font-weight="bold" fill="#000" stroke="#000" stroke-width="0.2" textLength="54.0" lengthAdjust="spacingAndGlyphs">Random_2</text>
<rect x="321.00" y="317.80" width="7.4" height="7.4" fill="url(#g4)"/>
<rect x="322.20" y="317.80" width="5" height="2" fill="#70e6ff" opacity="0.8"/>
<text x="331.60" y="325.30" font-size="11" font-weight="bold" fill="#000" stroke="#000" stroke-width="0.2" textLength="54.4" lengthAdjust="spacingAndGlyphs">Random_3</text>
<text transform="translate(20.1,389.10) rotate(-90)" x="0" y="0" text-anchor="middle" font-size="12.8" font-weight="bold" fill="#000" stroke="#000" stroke-width="0.2">Accuracy</text>
<line x1="54.5" y1="769.90" x2="59.0" y2="769.90" stroke="#8c8c8c" stroke-width="1.3"/>
<text x="46" y="773.90" text-anchor="end" font-size="10.6" fill="#333" stroke="#333" stroke-width="0.45">0</text>
<line x1="59.0" y1="730.50" x2="468.5" y2="730.50" stroke="#b0b0b0" stroke-width="1.3"/>
<line x1="54.5" y1="730.50" x2="59.0" y2="730.50" stroke="#8c8c8c" stroke-width="1.3"/>
<text x="46" y="734.50" text-anchor="end" font-size="10.6" fill="#333" stroke="#333" stroke-width="0.45">0.2</text>
<line x1="59.0" y1="691.10" x2="468.5" y2="691.10" stroke="#b0b0b0" stroke-width="1.3"/>
<line x1="54.5" y1="691.10" x2="59.0" y2="691.10" stroke="#8c8c8c" stroke-width="1.3"/>
<text x="46" y="695.10" text-anchor="end" font-size="10.6" fill="#333" stroke="#333" stroke-width="0.45">0.4</text>
<line x1="59.0" y1="651.70" x2="468.5" y2="651.70" stroke="#b0b0b0" stroke-width="1.3"/>
<line x1="54.5" y1="651.70" x2="59.0" y2="651.70" stroke="#8c8c8c" stroke-width="1.3"/>
<text x="46" y="655.70" text-anchor="end" font-size="10.6" fill="#333" stroke="#333" stroke-width="0.45">0.6</text>
<line x1="59.0" y1="612.30" x2="468.5" y2="612.30" stroke="#b0b0b0" stroke-width="1.3"/>
<line x1="54.5" y1="612.30" x2="59.0" y2="612.30" stroke="#8c8c8c" stroke-width="1.3"/>
<text x="46" y="616.30" text-anchor="end" font-size="10.6" fill="#333" stroke="#333" stroke-width="0.45">0.8</text>
<line x1="59.0" y1="572.90" x2="468.5" y2="572.90" stroke="#b0b0b0" stroke-width="1.3"/>
<line x1="54.5" y1="572.90" x2="59.0" y2="572.90" stroke="#8c8c8c" stroke-width="1.3"/>
<text x="46" y="576.90" text-anchor="end" font-size="10.6" fill="#333" stroke="#333" stroke-width="0.45">1</text>
<line x1="59.0" y1="539.3" x2="59.0" y2="769.90" stroke="#8c8c8c" stroke-width="1.4"/>
<line x1="59.0" y1="769.90" x2="468.5" y2="769.90" stroke="#bcbcbc" stroke-width="1.2"/>
<rect x="65.36" y="682.43" width="9.16" height="87.47" fill="url(#g0)"/>
<rect x="65.86" y="682.23" width="8.16" height="3.0" rx="1.5" fill="url(#t0)"/>
<line x1="70.44" y1="661.95" x2="70.44" y2="683.63" stroke="#7a7a7a" stroke-width="1.5"/>
<path d="M68.24,661.25H72.64L71.34,662.95H69.54Z" fill="#454545"/>
<path d="M69.14,682.23H71.74L70.94,684.03H69.94Z" fill="#3a3a3a" opacity="0.8"/>
<rect x="74.52" y="612.89" width="9.16" height="157.01" fill="url(#g1)"/>
<rect x="75.02" y="612.69" width="8.16" height="3.0" rx="1.5" fill="url(#t1)"/>
<line x1="79.59" y1="597.34" x2="79.59" y2="614.09" stroke="#7a7a7a" stroke-width="1.5"/>
<path d="M77.39,596.64H81.79L80.49,598.34H78.69Z" fill="#454545"/>
<path d="M78.29,612.69H80.89L80.09,614.49H79.09Z" fill="#3a3a3a" opacity="0.8"/>
<rect x="83.67" y="615.65" width="9.16" height="154.25" fill="url(#g2)"/>
<rect x="84.17" y="615.45" width="8.16" height="3.0" rx="1.5" fill="url(#t2)"/>
<line x1="88.75" y1="599.50" x2="88.75" y2="616.85" stroke="#7a7a7a" stroke-width="1.5"/>
<path d="M86.55,598.80H90.95L89.65,600.50H87.85Z" fill="#454545"/>
<path d="M87.45,615.45H90.05L89.25,617.25H88.25Z" fill="#3a3a3a" opacity="0.8"/>
<rect x="92.83" y="621.95" width="9.16" height="147.95" fill="url(#g3)"/>
<rect x="93.33" y="621.75" width="8.16" height="3.0" rx="1.5" fill="url(#t3)"/>
<line x1="97.91" y1="593.79" x2="97.91" y2="623.15" stroke="#7a7a7a" stroke-width="1.5"/>
<path d="M95.71,593.09H100.11L98.81,594.79H97.01Z" fill="#454545"/>
<path d="M96.61,621.75H99.21L98.41,623.55H97.41Z" fill="#3a3a3a" opacity="0.8"/>
<rect x="101.98" y="641.65" width="9.16" height="128.25" fill="url(#g4)"/>
<rect x="102.48" y="641.45" width="8.16" height="3.0" rx="1.5" fill="url(#t4)"/>
<line x1="107.06" y1="589.46" x2="107.06" y2="642.85" stroke="#7a7a7a" stroke-width="1.5"/>
<path d="M104.86,588.76H109.26L107.96,590.46H106.16Z" fill="#454545"/>
<path d="M105.76,641.45H108.36L107.56,643.25H106.56Z" fill="#3a3a3a" opacity="0.8"/>
<text x="88.25" y="793.0" text-anchor="middle" font-size="11.5" font-weight="bold" fill="#000" stroke="#000" stroke-width="0.2" textLength="9.9" lengthAdjust="spacingAndGlyphs">sr</text>
<rect x="123.86" y="614.86" width="9.16" height="155.04" fill="url(#g0)"/>
<rect x="124.36" y="614.66" width="8.16" height="3.0" rx="1.5" fill="url(#t0)"/>
<line x1="128.94" y1="597.53" x2="128.94" y2="616.06" stroke="#7a7a7a" stroke-width="1.5"/>
<path d="M126.74,596.83H131.14L129.84,598.53H128.04Z" fill="#454545"/>
<path d="M127.64,614.66H130.24L129.44,616.46H128.44Z" fill="#3a3a3a" opacity="0.8"/>
<rect x="133.02" y="681.45" width="9.16" height="88.45" fill="url(#g1)"/>
<rect x="133.52" y="681.25" width="8.16" height="3.0" rx="1.5" fill="url(#t1)"/>
<line x1="138.09" y1="661.16" x2="138.09" y2="682.65" stroke="#7a7a7a" stroke-width="1.5"/>
<path d="M135.89,660.46H140.29L138.99,662.16H137.19Z" fill="#454545"/>
<path d="M136.79,681.25H139.39L138.59,683.05H137.59Z" fill="#3a3a3a" opacity="0.8"/>
<rect x="142.17" y="625.50" width="9.16" height="144.40" fill="url(#g2)"/>
<rect x="142.67" y="625.30" width="8.16" height="3.0" rx="1.5" fill="url(#t2)"/>
<line x1="147.25" y1="615.26" x2="147.25" y2="626.70" stroke="#7a7a7a" stroke-width="1.5"/>
<path d="M145.05,614.56H149.45L148.15,616.26H146.35Z" fill="#454545"/>
<path d="M145.95,625.30H148.55L147.75,627.10H146.75Z" fill="#3a3a3a" opacity="0.8"/>
<rect x="151.33" y="597.33" width="9.16" height="172.57" fill="url(#g3)"/>
<rect x="151.83" y="597.13" width="8.16" height="3.0" rx="1.5" fill="url(#t3)"/>
<line x1="156.41" y1="587.49" x2="156.41" y2="598.53" stroke="#7a7a7a" stroke-width="1.5"/>
<path d="M154.21,586.79H158.61L157.31,588.49H155.51Z" fill="#454545"/>
<path d="M155.11,597.13H157.71L156.91,598.93H155.91Z" fill="#3a3a3a" opacity="0.8"/>
<rect x="160.48" y="585.51" width="9.16" height="184.39" fill="url(#g4)"/>
<rect x="160.98" y="585.31" width="8.16" height="3.0" rx="1.5" fill="url(#t4)"/>
<line x1="165.56" y1="581.58" x2="165.56" y2="586.71" stroke="#7a7a7a" stroke-width="1.5"/>
<path d="M163.36,580.88H167.76L166.46,582.58H164.66Z" fill="#454545"/>
<path d="M164.26,585.31H166.86L166.06,587.11H165.06Z" fill="#3a3a3a" opacity="0.8"/>
<text x="146.75" y="793.0" text-anchor="middle" font-size="11.5" font-weight="bold" fill="#000" stroke="#000" stroke-width="0.2" textLength="12.4" lengthAdjust="spacingAndGlyphs">sp</text>
<rect x="182.36" y="640.47" width="9.16" height="129.43" fill="url(#g0)"/>
<rect x="182.86" y="640.27" width="8.16" height="3.0" rx="1.5" fill="url(#t0)"/>
<line x1="187.44" y1="616.05" x2="187.44" y2="641.67" stroke="#7a7a7a" stroke-width="1.5"/>
<path d="M185.24,615.35H189.64L188.34,617.05H186.54Z" fill="#454545"/>
<path d="M186.14,640.27H188.74L187.94,642.07H186.94Z" fill="#3a3a3a" opacity="0.8"/>
<rect x="191.52" y="640.47" width="9.16" height="129.43" fill="url(#g1)"/>
<rect x="192.02" y="640.27" width="8.16" height="3.0" rx="1.5" fill="url(#t1)"/>
<line x1="196.59" y1="616.05" x2="196.59" y2="641.67" stroke="#7a7a7a" stroke-width="1.5"/>
<path d="M194.39,615.35H198.79L197.49,617.05H195.69Z" fill="#454545"/>
<path d="M195.29,640.27H197.89L197.09,642.07H196.09Z" fill="#3a3a3a" opacity="0.8"/>
<rect x="200.67" y="641.26" width="9.16" height="128.64" fill="url(#g2)"/>
<rect x="201.17" y="641.06" width="8.16" height="3.0" rx="1.5" fill="url(#t2)"/>
<line x1="205.75" y1="619.60" x2="205.75" y2="642.46" stroke="#7a7a7a" stroke-width="1.5"/>
<path d="M203.55,618.90H207.95L206.65,620.60H204.85Z" fill="#454545"/>
<path d="M204.45,641.06H207.05L206.25,642.86H205.25Z" fill="#3a3a3a" opacity="0.8"/>
<rect x="209.83" y="646.38" width="9.16" height="123.52" fill="url(#g3)"/>
<rect x="210.33" y="646.18" width="8.16" height="3.0" rx="1.5" fill="url(#t3)"/>
<line x1="214.91" y1="616.84" x2="214.91" y2="647.58" stroke="#7a7a7a" stroke-width="1.5"/>
<path d="M212.71,616.14H217.11L215.81,617.84H214.01Z" fill="#454545"/>
<path d="M213.61,646.18H216.21L215.41,647.98H214.41Z" fill="#3a3a3a" opacity="0.8"/>
<rect x="218.98" y="660.56" width="9.16" height="109.34" fill="url(#g4)"/>
<rect x="219.48" y="660.36" width="8.16" height="3.0" rx="1.5" fill="url(#t4)"/>
<line x1="224.06" y1="612.90" x2="224.06" y2="661.76" stroke="#7a7a7a" stroke-width="1.5"/>
<path d="M221.86,612.20H226.26L224.96,613.90H223.16Z" fill="#454545"/>
<path d="M222.76,660.36H225.36L224.56,662.16H223.56Z" fill="#3a3a3a" opacity="0.8"/>
<text x="205.25" y="793.0" text-anchor="middle" font-size="11.5" font-weight="bold" fill="#000" stroke="#000" stroke-width="0.2" textLength="9.4" lengthAdjust="spacingAndGlyphs">rr</text>
<rect x="240.86" y="679.48" width="9.16" height="90.42" fill="url(#g0)"/>
<rect x="241.36" y="679.28" width="8.16" height="3.0" rx="1.5" fill="url(#t0)"/>
<line x1="245.94" y1="661.56" x2="245.94" y2="680.68" stroke="#7a7a7a" stroke-width="1.5"/>
<path d="M243.74,660.86H248.14L246.84,662.56H245.04Z" fill="#454545"/>
<path d="M244.64,679.28H247.24L246.44,681.08H245.44Z" fill="#3a3a3a" opacity="0.8"/>
<rect x="250.02" y="679.87" width="9.16" height="90.03" fill="url(#g1)"/>
<rect x="250.52" y="679.67" width="8.16" height="3.0" rx="1.5" fill="url(#t1)"/>
<line x1="255.09" y1="661.56" x2="255.09" y2="681.07" stroke="#7a7a7a" stroke-width="1.5"/>
<path d="M252.89,660.86H257.29L255.99,662.56H254.19Z" fill="#454545"/>
<path d="M253.79,679.67H256.39L255.59,681.47H254.59Z" fill="#3a3a3a" opacity="0.8"/>
<rect x="259.17" y="659.78" width="9.16" height="110.12" fill="url(#g2)"/>
<rect x="259.67" y="659.58" width="8.16" height="3.0" rx="1.5" fill="url(#t2)"/>
<line x1="264.25" y1="646.19" x2="264.25" y2="660.98" stroke="#7a7a7a" stroke-width="1.5"/>
<path d="M262.05,645.49H266.45L265.15,647.19H263.35Z" fill="#454545"/>
<path d="M262.95,659.58H265.55L264.75,661.38H263.75Z" fill="#3a3a3a" opacity="0.8"/>
<rect x="268.33" y="651.70" width="9.16" height="118.20" fill="url(#g3)"/>
<rect x="268.83" y="651.50" width="8.16" height="3.0" rx="1.5" fill="url(#t3)"/>
<line x1="273.41" y1="636.15" x2="273.41" y2="652.90" stroke="#7a7a7a" stroke-width="1.5"/>
<path d="M271.21,635.45H275.61L274.31,637.15H272.51Z" fill="#454545"/>
<path d="M272.11,651.50H274.71L273.91,653.30H272.91Z" fill="#3a3a3a" opacity="0.8"/>
<rect x="277.48" y="660.56" width="9.16" height="109.34" fill="url(#g4)"/>
<rect x="277.98" y="660.36" width="8.16" height="3.0" rx="1.5" fill="url(#t4)"/>
<line x1="282.56" y1="635.95" x2="282.56" y2="661.76" stroke="#7a7a7a" stroke-width="1.5"/>
<path d="M280.36,635.25H284.76L283.46,636.95H281.66Z" fill="#454545"/>
<path d="M281.26,660.36H283.86L283.06,662.16H282.06Z" fill="#3a3a3a" opacity="0.8"/>
<text x="263.75" y="793.0" text-anchor="middle" font-size="11.5" font-weight="bold" fill="#000" stroke="#000" stroke-width="0.2" textLength="11.2" lengthAdjust="spacingAndGlyphs">rp</text>
<rect x="299.36" y="666.28" width="9.16" height="103.62" fill="url(#g0)"/>
<rect x="299.86" y="666.08" width="8.16" height="3.0" rx="1.5" fill="url(#t0)"/>
<line x1="304.44" y1="636.15" x2="304.44" y2="667.48" stroke="#7a7a7a" stroke-width="1.5"/>
<path d="M302.24,635.45H306.64L305.34,637.15H303.54Z" fill="#454545"/>
<path d="M303.14,666.08H305.74L304.94,667.88H303.94Z" fill="#3a3a3a" opacity="0.8"/>
<rect x="308.52" y="664.70" width="9.16" height="105.20" fill="url(#g1)"/>
<rect x="309.02" y="664.50" width="8.16" height="3.0" rx="1.5" fill="url(#t1)"/>
<line x1="313.59" y1="635.75" x2="313.59" y2="665.90" stroke="#7a7a7a" stroke-width="1.5"/>
<path d="M311.39,635.05H315.79L314.49,636.75H312.69Z" fill="#454545"/>
<path d="M312.29,664.50H314.89L314.09,666.30H313.09Z" fill="#3a3a3a" opacity="0.8"/>
<rect x="317.67" y="667.46" width="9.16" height="102.44" fill="url(#g2)"/>
<rect x="318.17" y="667.26" width="8.16" height="3.0" rx="1.5" fill="url(#t2)"/>
<line x1="322.75" y1="641.07" x2="322.75" y2="668.66" stroke="#7a7a7a" stroke-width="1.5"/>
<path d="M320.55,640.37H324.95L323.65,642.07H321.85Z" fill="#454545"/>
<path d="M321.45,667.26H324.05L323.25,669.06H322.25Z" fill="#3a3a3a" opacity="0.8"/>
<rect x="326.83" y="673.76" width="9.16" height="96.14" fill="url(#g3)"/>
<rect x="327.33" y="673.56" width="8.16" height="3.0" rx="1.5" fill="url(#t3)"/>
<line x1="331.91" y1="636.15" x2="331.91" y2="674.96" stroke="#7a7a7a" stroke-width="1.5"/>
<path d="M329.71,635.45H334.11L332.81,637.15H331.01Z" fill="#454545"/>
<path d="M330.61,673.56H333.21L332.41,675.36H331.41Z" fill="#3a3a3a" opacity="0.8"/>
<rect x="335.98" y="688.14" width="9.16" height="81.75" fill="url(#g4)"/>
<rect x="336.48" y="687.94" width="8.16" height="3.0" rx="1.5" fill="url(#t4)"/>
<line x1="341.06" y1="630.24" x2="341.06" y2="689.35" stroke="#7a7a7a" stroke-width="1.5"/>
<path d="M338.86,629.54H343.26L341.96,631.24H340.16Z" fill="#454545"/>
<path d="M339.76,687.94H342.36L341.56,689.75H340.56Z" fill="#3a3a3a" opacity="0.8"/>
<text x="322.25" y="793.0" text-anchor="middle" font-size="11.5" font-weight="bold" fill="#000" stroke="#000" stroke-width="0.2" textLength="10.8" lengthAdjust="spacingAndGlyphs">hr</text>
<rect x="357.86" y="728.14" width="9.16" height="41.76" fill="url(#g0)"/>
<rect x="358.36" y="727.94" width="8.16" height="3.0" rx="1.5" fill="url(#t0)"/>
<line x1="362.94" y1="710.81" x2="362.94" y2="729.34" stroke="#7a7a7a" stroke-width="1.5"/>
<path d="M360.74,710.11H365.14L363.84,711.81H362.04Z" fill="#454545"/>
<path d="M361.64,727.94H364.24L363.44,729.74H362.44Z" fill="#3a3a3a" opacity="0.8"/>
<rect x="367.02" y="728.14" width="9.16" height="41.76" fill="url(#g1)"/>
<rect x="367.52" y="727.94" width="8.16" height="3.0" rx="1.5" fill="url(#t1)"/>
<line x1="372.09" y1="710.81" x2="372.09" y2="729.34" stroke="#7a7a7a" stroke-width="1.5"/>
<path d="M369.89,710.11H374.29L372.99,711.81H371.19Z" fill="#454545"/>
<path d="M370.79,727.94H373.39L372.59,729.74H371.59Z" fill="#3a3a3a" opacity="0.8"/>
<rect x="376.17" y="689.33" width="9.16" height="80.57" fill="url(#g2)"/>
<rect x="376.67" y="689.13" width="8.16" height="3.0" rx="1.5" fill="url(#t2)"/>
<line x1="381.25" y1="675.74" x2="381.25" y2="690.53" stroke="#7a7a7a" stroke-width="1.5"/>
<path d="M379.05,675.04H383.45L382.15,676.74H380.35Z" fill="#454545"/>
<path d="M379.95,689.13H382.55L381.75,690.93H380.75Z" fill="#3a3a3a" opacity="0.8"/>
<rect x="385.33" y="666.47" width="9.16" height="103.43" fill="url(#g3)"/>
<rect x="385.83" y="666.27" width="8.16" height="3.0" rx="1.5" fill="url(#t3)"/>
<line x1="390.41" y1="651.71" x2="390.41" y2="667.67" stroke="#7a7a7a" stroke-width="1.5"/>
<path d="M388.21,651.01H392.61L391.31,652.71H389.51Z" fill="#454545"/>
<path d="M389.11,666.27H391.71L390.91,668.07H389.91Z" fill="#3a3a3a" opacity="0.8"/>
<rect x="394.48" y="666.47" width="9.16" height="103.43" fill="url(#g4)"/>
<rect x="394.98" y="666.27" width="8.16" height="3.0" rx="1.5" fill="url(#t4)"/>
<line x1="399.56" y1="643.63" x2="399.56" y2="667.67" stroke="#7a7a7a" stroke-width="1.5"/>
<path d="M397.36,642.93H401.76L400.46,644.63H398.66Z" fill="#454545"/>
<path d="M398.26,666.27H400.86L400.06,668.07H399.06Z" fill="#3a3a3a" opacity="0.8"/>
<text x="380.75" y="793.0" text-anchor="middle" font-size="11.5" font-weight="bold" fill="#000" stroke="#000" stroke-width="0.2" textLength="12.7" lengthAdjust="spacingAndGlyphs">hp</text>
<rect x="416.36" y="710.80" width="9.16" height="59.10" fill="url(#g0)"/>
<rect x="416.86" y="710.60" width="8.16" height="3.0" rx="1.5" fill="url(#t0)"/>
<line x1="421.44" y1="689.73" x2="421.44" y2="712.00" stroke="#7a7a7a" stroke-width="1.5"/>
<path d="M419.24,689.03H423.64L422.34,690.73H420.54Z" fill="#454545"/>
<path d="M420.14,710.60H422.74L421.94,712.40H420.94Z" fill="#3a3a3a" opacity="0.8"/>
<rect x="425.52" y="711.00" width="9.16" height="58.90" fill="url(#g1)"/>
<rect x="426.02" y="710.80" width="8.16" height="3.0" rx="1.5" fill="url(#t1)"/>
<line x1="430.59" y1="689.34" x2="430.59" y2="712.20" stroke="#7a7a7a" stroke-width="1.5"/>
<path d="M428.39,688.64H432.79L431.49,690.34H429.69Z" fill="#454545"/>
<path d="M429.29,710.80H431.89L431.09,712.60H430.09Z" fill="#3a3a3a" opacity="0.8"/>
<rect x="434.67" y="679.87" width="9.16" height="90.03" fill="url(#g2)"/>
<rect x="435.17" y="679.67" width="8.16" height="3.0" rx="1.5" fill="url(#t2)"/>
<line x1="439.75" y1="661.56" x2="439.75" y2="681.07" stroke="#7a7a7a" stroke-width="1.5"/>
<path d="M437.55,660.86H441.95L440.65,662.56H438.85Z" fill="#454545"/>
<path d="M438.45,679.67H441.05L440.25,681.47H439.25Z" fill="#3a3a3a" opacity="0.8"/>
<rect x="443.83" y="672.38" width="9.16" height="97.51" fill="url(#g3)"/>
<rect x="444.33" y="672.18" width="8.16" height="3.0" rx="1.5" fill="url(#t3)"/>
<line x1="448.91" y1="646.00" x2="448.91" y2="673.59" stroke="#7a7a7a" stroke-width="1.5"/>
<path d="M446.71,645.30H451.11L449.81,647.00H448.01Z" fill="#454545"/>
<path d="M447.61,672.18H450.21L449.41,673.99H448.41Z" fill="#3a3a3a" opacity="0.8"/>
<rect x="452.98" y="684.80" width="9.16" height="85.10" fill="url(#g4)"/>
<rect x="453.48" y="684.60" width="8.16" height="3.0" rx="1.5" fill="url(#t4)"/>
<line x1="458.06" y1="637.33" x2="458.06" y2="686.00" stroke="#7a7a7a" stroke-width="1.5"/>
<path d="M455.86,636.63H460.26L458.96,638.33H457.16Z" fill="#454545"/>
<path d="M456.76,684.60H459.36L458.56,686.40H457.56Z" fill="#3a3a3a" opacity="0.8"/>
<text x="439.25" y="793.0" text-anchor="middle" font-size="11.5" font-weight="bold" fill="#000" stroke="#000" stroke-width="0.2" textLength="3.9" lengthAdjust="spacingAndGlyphs">f</text>
<text x="237.7" y="560.10" font-size="11.8" font-weight="bold" fill="#000" stroke="#000" stroke-width="0.2" textLength="59.6" lengthAdjust="spacingAndGlyphs">SNR = 1.25</text>
<rect x="322.00" y="542.80" width="7.4" height="7.4" fill="url(#g0)"/>
<rect x="323.20" y="542.80" width="5" height="2" fill="#6aaef6" opacity="0.8"/>
<text x="332.60" y="550.30" font-size="11" font-weight="bold" fill="#000" stroke="#000" stroke-width="0.2" textLength="52.6" lengthAdjust="spacingAndGlyphs">Automatic</text>
<rect x="399.50" y="542.80" width="7.4" height="7.4" fill="url(#g1)"/>
<rect x="400.70" y="542.80" width="5" height="2" fill="#c0e870" opacity="0.8"/>
<text x="410.10" y="550.30" font-size="11" font-weight="bold" fill="#000" stroke="#000" stroke-width="0.2" textLength="54.0" lengthAdjust="spacingAndGlyphs">Random_1</text>
<rect x="322.00" y="562.10" width="7.4" height="7.4" fill="url(#g2)"/>
<rect x="323.20" y="562.10" width="5" height="2" fill="#f27a72" opacity="0.8"/>
<text x="332.60" y="569.60" font-size="11" font-weight="bold" fill="#000" stroke="#000" stroke-width="0.2" textLength="25.1" lengthAdjust="spacingAndGlyphs">Ideal</text>
<rect x="399.50" y="562.10" width="7.4" height="7.4" fill="url(#g3)"/>
<rect x="400.70" y="562.10" width="5" height="2" fill="#b898e2" opacity="0.8"/>
<text x="410.10" y="569.60" font-size="11" font-weight="bold" fill="#000" stroke="#000" stroke-width="0.2" textLength="54.0" lengthAdjust="spacingAndGlyphs">Random_2</text>
<rect x="322.00" y="581.30" width="7.4" height="7.4" fill="url(#g4)"/>
<rect x="323.20" y="581.30" width="5" height="2" fill="#70e6ff" opacity="0.8"/>
<text x="332.60" y="588.80" font-size="11" font-weight="bold" fill="#000" stroke="#000" stroke-width="0.2" textLength="54.4" lengthAdjust="spacingAndGlyphs">Random_3</text>
<text transform="translate(20.8,651.50) rotate(-90)" x="0" y="0" text-anchor="middle" font-size="12.8" font-weight="bold" fill="#000" stroke="#000" stroke-width="0.2">Accuracy</text>
</svg></div></body></html>
